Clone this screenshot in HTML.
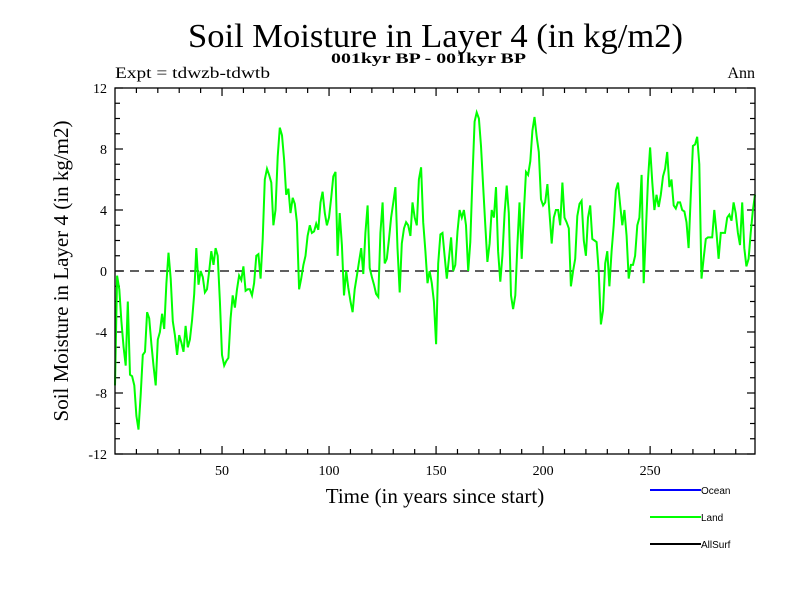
<!DOCTYPE html>
<html><head><meta charset="utf-8"><style>
body{margin:0;background:#fff}
svg{display:block}
text{font-family:"Liberation Serif",serif;fill:#000}
.lg{font-family:"Liberation Sans",sans-serif;font-size:10px}
</style></head><body>
<svg id="c" width="800" height="600" viewBox="0 0 800 600">
<text x="188" y="47" font-size="34" textLength="495" lengthAdjust="spacingAndGlyphs">Soil Moisture in Layer 4 (in kg/m2)</text>
<text x="331" y="63" font-size="15" font-weight="bold" textLength="195" lengthAdjust="spacingAndGlyphs">001kyr BP - 001kyr BP</text>
<text x="115" y="78" font-size="16" textLength="155" lengthAdjust="spacingAndGlyphs">Expt = tdwzb-tdwtb</text>
<text x="755" y="78" font-size="16" text-anchor="end">Ann</text>
<text x="435" y="503" font-size="21" text-anchor="middle">Time (in years since start)</text>
<text transform="translate(68,271) rotate(-90)" font-size="21" text-anchor="middle">Soil Moisture in Layer 4 (in kg/m2)</text>
<g id="ticks"></g>
<line x1="115" x2="755" y1="271" y2="271" stroke="#000" stroke-width="1.3" stroke-dasharray="9,6"/>
<polyline id="series" fill="none" stroke="#00ff00" stroke-width="2"/>
<rect x="115" y="88" width="640" height="366" fill="none" stroke="#000" stroke-width="1.3"/>
<g>
<line x1="650" x2="701" y1="490" y2="490" stroke="#0000ff" stroke-width="2"/>
<text class="lg" x="701" y="494">Ocean</text>
<line x1="650" x2="701" y1="517" y2="517" stroke="#00ff00" stroke-width="2"/>
<text class="lg" x="701" y="521">Land</text>
<line x1="650" x2="701" y1="544" y2="544" stroke="#000" stroke-width="2"/>
<text class="lg" x="701" y="548">AllSurf</text>
</g>
</svg>
<script>
const years = Array.from({length:300},(_, i)=>i);
const landValues = [-7.5,-0.3,-1.2,-3.3,-5,-6.2,-2,-6.8,-6.9,-7.5,-9.5,-10.4,-8.1,-5.5,-5.3,-2.7,-3.1,-4.8,-6.2,-7.5,
-4.5,-4,-2.8,-3.8,-0.8,1.2,-0.5,-3.3,-4.2,-5.5,-4.2,-4.7,-5.3,-3.6,-5,-4.5,-3.2,-1.5,1.5,-0.9,
0,-0.4,-1.4,-1.2,0,1.3,0.4,1.5,1,-2,-5.5,-6.2,-5.9,-5.7,-3.1,-1.6,-2.4,-1.2,-0.3,-0.6,
0.3,-1.3,-1.2,-1.2,-1.6,-0.8,1,1.1,-0.5,2.1,6,6.7,6.3,5.8,3,4,7.5,9.4,8.9,7.3,
5,5.4,3.8,4.8,4.4,3.2,-1.2,-0.5,0.4,1,2.3,3,2.5,2.6,3.1,2.7,4.5,5.2,3.8,3,
3.5,4.8,6.2,6.5,1,3.8,1.7,-1.6,0,-1.1,-2,-2.7,-1.2,-0.3,0.6,1.5,-0.2,2.5,4.3,0.2,
-0.4,-0.9,-1.5,-1.7,2.5,4.5,0.5,0.8,2.1,3.5,4.5,5.5,1.5,-1.4,1.8,2.8,3.2,3,2.3,4.5,
3.5,3,6,6.8,3.2,1.3,-0.8,0,-0.8,-2,-4.8,0.5,2.4,2.5,1,-0.5,0.8,2.2,0,0.4,
2.6,4,3.5,4,3,0,1.9,6.2,9.8,10.4,10,8.2,5.5,3,0.6,1.8,4,3.5,5.5,1.3,
-0.7,1,3.8,5.6,3.8,-1.6,-2.5,-1.6,1.7,4.5,0.8,3.8,6.5,6.3,7.2,9.2,10.1,8.8,7.8,4.7,
4.3,4.5,5.7,3.8,1.8,3.5,4,4,3,5.8,3.5,3.2,2.8,-1,0,0.8,3.6,4.4,4.6,2,
1,3.5,4.3,2.1,2,1.9,0,-3.5,-2.6,0.5,1.3,-1,1.3,3,5.3,5.8,4.3,3,4,2.3,
-0.5,0.4,0.4,1,3,3.5,6.3,-0.8,2.5,6,8.1,5.8,4,5,4.2,5,6.2,6.7,7.8,5.5,
6,4.3,4.1,4.5,4.5,4,3.9,3.2,1.5,5,8.2,8.3,8.8,7,-0.5,0.8,2.1,2.2,2.2,2.2,
4,2.5,0.8,2.5,2.5,2.5,3.5,3.7,3.3,4.5,3.8,2.5,1.7,4.5,1.5,0.3,0.8,2.5,4,5];
const yTickValues = [-12,-8,-4,0,4,8,12];
const xTickValues = [50,100,150,200,250];

const X0=115,X1=755,Y0=454,Y1=88,xMin=0,xMax=299,yMin=-12,yMax=12;
const sx=v=>X0+(v-xMin)/(xMax-xMin)*(X1-X0);
const sy=v=>Y0-(v-yMin)/(yMax-yMin)*(Y0-Y1);
const NS="http://www.w3.org/2000/svg";
const g=document.getElementById('ticks');
function ln(x1,y1,x2,y2){const l=document.createElementNS(NS,'line');l.setAttribute('x1',x1);l.setAttribute('y1',y1);l.setAttribute('x2',x2);l.setAttribute('y2',y2);l.setAttribute('stroke','#000');l.setAttribute('stroke-width','1.2');


g.appendChild(l);}
for(let v=yMin;v<=yMax;v++){const y=sy(v);const major=(v%4===0);const L=major?8:5;ln(X0,y,X0+L,y);ln(X1,y,X1-L,y);}
for(let v=10;v<=xMax;v+=10){const x=sx(v);const L=(v%50===0)?8:5;ln(x,Y0,x,Y0-L);ln(x,Y1,x,Y1+L);}
yTickValues.forEach(v=>{const t=document.createElementNS(NS,'text');t.setAttribute('x',X0-8);t.setAttribute('y',sy(v)+5);t.setAttribute('text-anchor','end');t.setAttribute('font-size','14');t.textContent=v;


g.appendChild(t);});
xTickValues.forEach(v=>{const t=document.createElementNS(NS,'text');t.setAttribute('x',sx(v));t.setAttribute('y',Y0+21);t.setAttribute('text-anchor','middle');t.setAttribute('font-size','14');t.textContent=v;


g.appendChild(t);});
document.getElementById('series').setAttribute('points',landValues.map((v,i)=>sx(years[i]).toFixed(1)+','+sy(v).toFixed(1)).join(' '));
</script>
</body></html>
